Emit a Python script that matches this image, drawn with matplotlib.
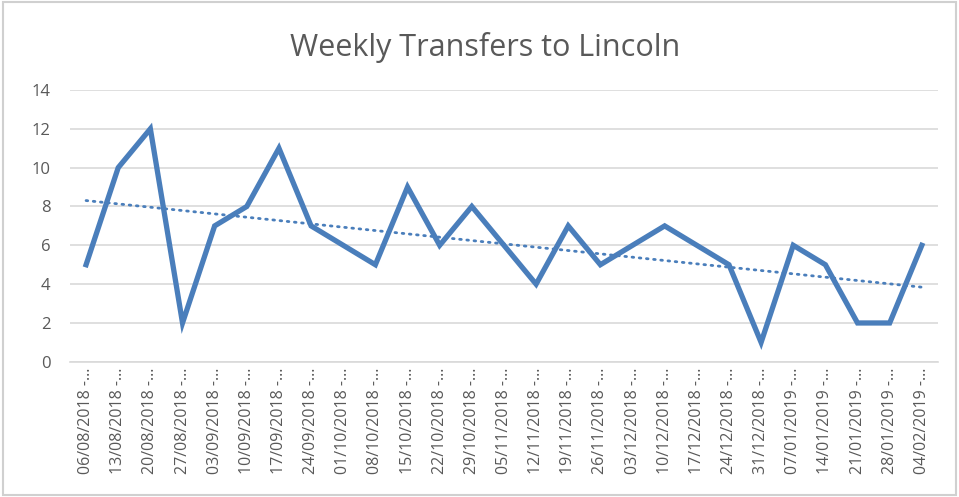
"""Weekly transfers to Lincoln, line chart with linear trend."""

import matplotlib
matplotlib.use("Agg")
import matplotlib.pyplot as plt
import numpy as np

week_starts = [
    "06/08/2018", "13/08/2018", "20/08/2018", "27/08/2018", "03/09/2018",
    "10/09/2018", "17/09/2018", "24/09/2018", "01/10/2018", "08/10/2018",
    "15/10/2018", "22/10/2018", "29/10/2018", "05/11/2018", "12/11/2018",
    "19/11/2018", "26/11/2018", "03/12/2018", "10/12/2018", "17/12/2018",
    "24/12/2018", "31/12/2018", "07/01/2019", "14/01/2019", "21/01/2019",
    "28/01/2019", "04/02/2019",
]
transfers = [5, 10, 12, 2, 7, 8, 11, 7, 6, 5, 9, 6, 8, 6, 4, 7, 5, 6, 7, 6, 5, 1, 6, 5, 2, 2, 6]
y_ticks = [0, 2, 4, 6, 8, 10, 12, 14]

BLUE = "#4a7ebb"
GREY_TEXT = "#595959"
GRID = "#d9d9d9"

plt.rcParams["font.family"] = ["Open Sans", "DejaVu Sans"]

fig = plt.figure(figsize=(9.59, 4.97), dpi=100)
fig.patches.append(plt.Rectangle((0.003, 0.004), 0.994, 0.992, transform=fig.transFigure,
                                 fill=False, edgecolor="#d0d0d0", linewidth=1.5))
ax = fig.add_axes([0.073, 0.272, 0.905, 0.547])

x = np.arange(len(transfers))
ax.plot(x, transfers, color=BLUE, linewidth=3.8, solid_joinstyle="miter", zorder=3)

slope, intercept = np.polyfit(x, transfers, 1)
ax.plot(x, slope * x + intercept, color=BLUE, linewidth=2.0, linestyle=(0, (0.6, 2.0)),
        dash_capstyle="round", zorder=2)

ax.set_xlim(-0.5, len(transfers) - 0.5)
ax.set_ylim(0, 14)
ax.set_yticks(y_ticks)
ax.set_xticks(x)
ax.set_xticklabels([f"{d} -…" for d in week_starts], rotation=90, fontsize=11.5, color=GREY_TEXT)
ax.tick_params(axis="y", labelsize=12, colors=GREY_TEXT, length=0, pad=14)
ax.tick_params(axis="x", length=0, pad=4)
ax.grid(axis="y", color=GRID, linewidth=1.2)
ax.set_axisbelow(True)
for side in ["top", "right", "left"]:
    ax.spines[side].set_visible(False)
ax.spines["bottom"].set_color(GRID)
ax.spines["bottom"].set_linewidth(1.2)

fig.text(0.506, 0.905, "Weekly Transfers to Lincoln", ha="center", va="center",
         fontsize=22, color=GREY_TEXT)

fig.savefig("out.png", dpi=100)
